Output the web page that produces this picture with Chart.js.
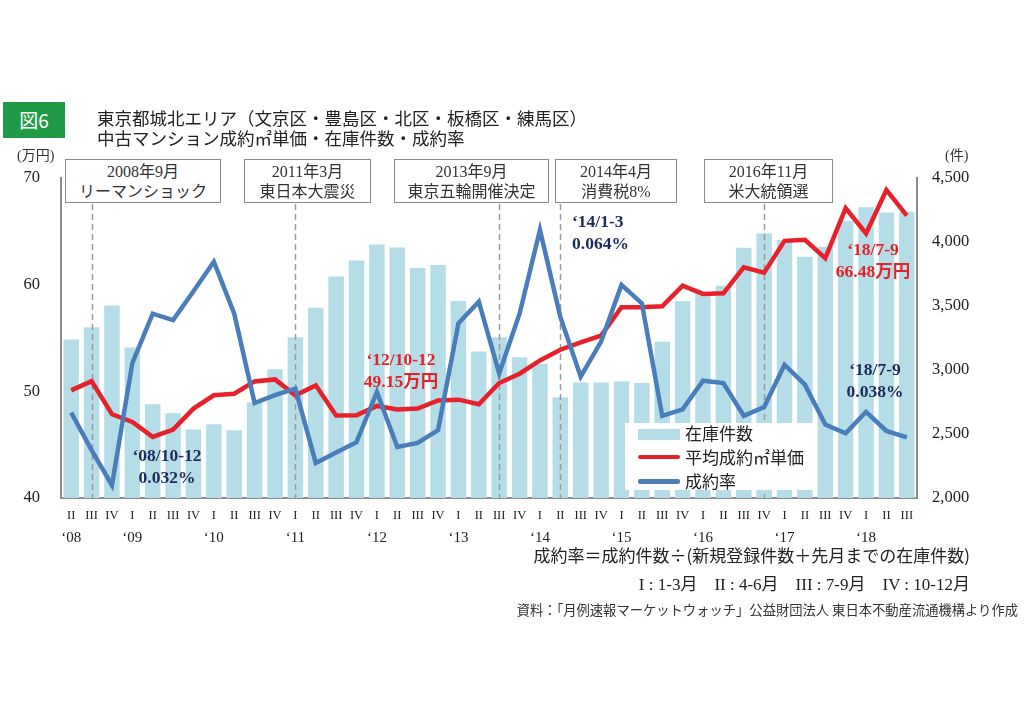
<!DOCTYPE html>
<html lang="ja">
<head>
<meta charset="utf-8">
<script src="https://cdn.jsdelivr.net/npm/chart.js@4"></script>
<style>
  body { margin: 0; background: #fff; }
  #wrap { position: relative; width: 1024px; height: 723px; overflow: hidden; font-family: "Noto Sans CJK JP", sans-serif; color: #222; }
  #chart { position: absolute; left: 0; top: 0; }
  .abs { position: absolute; white-space: nowrap; }
  .fig { left: 3px; top: 102px; width: 62px; height: 36px; background: #1f9b48; color: #fff; font-size: 19px; line-height: 36px; text-align: center; }
  .title { left: 97px; top: 108px; font-size: 17.5px; line-height: 20px; color: #222; }
  .unit { font-family: "Liberation Serif", "Noto Sans CJK JP", serif; font-size: 14px; color: #333; }
  .event { top: 159px; height: 44px; box-sizing: border-box; border: 1.5px solid #8a8a8a; background: #fff; text-align: center; font-family: "Liberation Serif", "Noto Sans CJK JP", serif; font-size: 16px; line-height: 20px; padding-top: 2px; color: #333; }
  .note { font-family: "Liberation Serif", "Noto Sans CJK JP", serif; font-weight: bold; font-size: 17.5px; line-height: 22px; text-align: center; }
  .navy { color: #1d2a5c; }
  .red { color: #e62129; }
  #legend { left: 625px; top: 423px; width: 189px; height: 67px; background: #fff; }
  .item { position: absolute; left: 60px; font-size: 17px; line-height: 20px; color: #222; }
  .sw { position: absolute; left: 13px; width: 42px; }
</style>
</head>
<body>
<div id="wrap">
  <canvas id="chart" width="1024" height="723"></canvas>

  <div class="abs fig">図6</div>
  <div class="abs title">東京都城北エリア（文京区・豊島区・北区・板橋区・練馬区）<br>中古マンション成約㎡単価・在庫件数・成約率</div>
  <div class="abs unit" style="left:17px; top:144px;">(万円)</div>
  <div class="abs unit" style="left:945px; top:144px;">(件)</div>

  <div class="abs event" style="left:65px; width:156px;">2008年9月<br>リーマンショック</div>
  <div class="abs event" style="left:244px; width:127px;">2011年3月<br>東日本大震災</div>
  <div class="abs event" style="left:394px; width:155px;">2013年9月<br>東京五輪開催決定</div>
  <div class="abs event" style="left:555px; width:122px;">2014年4月<br>消費税8%</div>
  <div class="abs event" style="left:704px; width:129px;">2016年11月<br>米大統領選</div>

  <div class="abs note navy" style="left:122px; top:444px; width:90px;">‘08/10-12<br>0.032%</div>
  <div class="abs note red" style="left:354px; top:348px; width:94px;">‘12/10-12<br>49.15万円</div>
  <div class="abs note navy" style="left:572px; top:210px; text-align:left;">‘14/1-3<br>0.064%</div>
  <div class="abs note red" style="left:826px; top:238px; width:94px;">‘18/7-9<br>66.48万円</div>
  <div class="abs note navy" style="left:830px; top:358px; width:90px;">‘18/7-9<br>0.038%</div>

  <div class="abs" id="legend"></div>

  <div class="abs" style="right:54px; top:544px; font-size:17px; line-height:22px;">成約率＝成約件数÷(新規登録件数＋先月までの在庫件数)</div>
  <div class="abs" style="right:54px; top:575px; font-family:'Liberation Serif','Noto Sans CJK JP',serif; font-size:17px; line-height:20px;">I : 1-3月&emsp;II : 4-6月&emsp;III : 7-9月&emsp;IV : 10-12月</div>
  <div class="abs" style="right:6px; top:602px; font-size:13.3px; line-height:16px; color:#333;">資料：「月例速報マーケットウォッチ」公益財団法人 東日本不動産流通機構より作成</div>
</div>

<script>
// quarters 2008 II .. 2018 III
const quarterLabels = [
  'II', 'III', 'IV',
  'I', 'II', 'III', 'IV',
  'I', 'II', 'III', 'IV',
  'I', 'II', 'III', 'IV',
  'I', 'II', 'III', 'IV',
  'I', 'II', 'III', 'IV',
  'I', 'II', 'III', 'IV',
  'I', 'II', 'III', 'IV',
  'I', 'II', 'III', 'IV',
  'I', 'II', 'III', 'IV',
  'I', 'II', 'III'
];
const yearLabels = [
  '‘08', '', '',
  '‘09', '', '', '',
  '‘10', '', '', '',
  '‘11', '', '', '',
  '‘12', '', '', '',
  '‘13', '', '', '',
  '‘14', '', '', '',
  '‘15', '', '', '',
  '‘16', '', '', '',
  '‘17', '', '', '',
  '‘18', '', ''
];

// 在庫件数 (件)
const stock = [
  3238, 3334, 3503, 3176, 2732, 2662, 2535, 2576, 2530, 2748,
  3005, 3256, 3487, 3731, 3856, 3981, 3957, 3797, 3820, 3540,
  3145, 3256, 3100, 3046, 2787, 2903, 2903, 2911, 2898, 3220,
  3540, 3602, 3659, 3955, 4066, 4015, 3885, 3963, 4165, 4272,
  4230, 4237
];
// 平均成約㎡単価 (万円)
const unitPrice = [
  50.09, 50.96, 47.85, 47.13, 45.73, 46.42, 48.38, 49.63, 49.78, 50.93,
  51.12, 49.63, 50.56, 47.73, 47.76, 48.63, 48.29, 48.38, 49.15, 49.22,
  48.79, 50.78, 51.65, 52.9, 53.9, 54.6, 55.23, 57.88, 57.88, 57.98,
  59.9, 59.13, 59.19, 61.62, 61.12, 64.11, 64.2, 62.49, 67.17, 64.8,
  68.88, 66.48
];
// 成約率 (%)
const closingRate = [
  0.0411, 0.0364, 0.032, 0.0473, 0.0535, 0.0527, 0.0563, 0.0600, 0.0535, 0.0423,
  0.0433, 0.0441, 0.0348, 0.0361, 0.0374, 0.0437, 0.0368, 0.0373, 0.0389, 0.0523,
  0.0550, 0.0460, 0.0535, 0.064, 0.0531, 0.0456, 0.0500, 0.0571, 0.0548, 0.0407,
  0.0415, 0.0451, 0.0448, 0.0407, 0.0418, 0.0471, 0.0446, 0.0396, 0.0385, 0.0412,
  0.0388, 0.038
];

// quarter index of each event (dashed line)
const eventIndex = [1, 11, 21, 24, 34];

const seriesNames = ['在庫件数', '平均成約㎡単価', '成約率'];
const barColor = '#b4dde7';
const redColor = '#e62129';
const blueColor = '#4a7ebb';
const axisColor = '#8c8c8c';
const serif = '"Liberation Serif", "Noto Sans CJK JP", serif';

const eventLines = {
    id: 'eventLines',
    afterDatasetDraw(chart, args) {
        if (args.index !== 0) return;
        const { ctx, chartArea, scales } = chart;
        ctx.save();
        ctx.strokeStyle = '#9a9a9a';
        ctx.lineWidth = 1.5;
        ctx.setLineDash([6, 4]);
        eventIndex.forEach((i) => {
            const px = Math.round(scales.x.getPixelForValue(i)) + 0.5;
            ctx.beginPath();
            ctx.moveTo(px, 204);
            ctx.lineTo(px, chartArea.bottom);
            ctx.stroke();
        });
        ctx.restore();
    }
};

const data = {
    labels: quarterLabels,
    datasets: [
        {
            type: 'bar',
            label: seriesNames[0],
            data: stock,
            backgroundColor: barColor,
            yAxisID: 'yR',
            barPercentage: 0.76,
            categoryPercentage: 1,
            order: 3
        },
        {
            type: 'line',
            label: seriesNames[1],
            data: unitPrice,
            borderColor: redColor,
            borderWidth: 4.5,
            pointRadius: 0,
            tension: 0,
            yAxisID: 'y',
            order: 2
        },
        {
            type: 'line',
            label: seriesNames[2],
            data: closingRate,
            borderColor: blueColor,
            borderWidth: 4.5,
            pointRadius: 0,
            tension: 0,
            yAxisID: 'yRate',
            order: 1
        }
    ]
};

const config = {
    type: 'bar',
    data: data,
    options: {
        responsive: false,
        animation: false,
        devicePixelRatio: 1,
        layout: { padding: { top: 178, left: 0, right: 0, bottom: 171 } },
        plugins: { legend: { display: false }, tooltip: { enabled: false } },
        scales: {
            x: {
                position: 'bottom',
                grid: { display: false, drawTicks: false },
                border: { display: true, color: axisColor, width: 2 },
                ticks: { color: '#222', font: { family: serif, size: 12.5 }, padding: 10, autoSkip: false, maxRotation: 0 },
                afterFit: (s) => { s.height = 24; }
            },
            x2: {
                position: 'bottom',
                labels: quarterLabels,
                grid: { display: false, drawTicks: false },
                border: { display: false },
                ticks: {
                    color: '#222', font: { family: serif, size: 15 }, padding: 7, autoSkip: false, maxRotation: 0,
                    callback: (v, i) => yearLabels[i]
                },
                afterFit: (s) => { s.height = 30; }
            },
            y: {
                position: 'left',
                min: 40, max: 70,
                grid: { display: false, drawTicks: false },
                border: { display: true, color: axisColor, width: 2 },
                ticks: { stepSize: 10, color: '#222', font: { family: serif, size: 16.5 }, padding: 21 },
                afterFit: (s) => { s.width = 61; }
            },
            yR: {
                position: 'right',
                min: 2000, max: 4500,
                grid: { display: false, drawTicks: false },
                border: { display: true, color: axisColor, width: 2 },
                ticks: {
                    stepSize: 500, color: '#222', font: { family: serif, size: 16.5 }, padding: 15,
                    callback: (v) => v.toLocaleString('en-US')
                },
                afterFit: (s) => { s.width = 107; }
            },
            yRate: {
                display: false,
                min: 0.0304, max: 0.0705
            }
        }
    },
    plugins: [eventLines]
};

new Chart(document.getElementById('chart'), config);

// legend box
const legend = document.getElementById('legend');
const rows = [
    { top: 0, swatch: `top:6px; height:11px; background:${barColor};` },
    { top: 24, swatch: `top:32px; height:4px; border-radius:2px; background:${redColor};` },
    { top: 48, swatch: `top:56px; height:5px; border-radius:2px; background:${blueColor};` }
];
rows.forEach((row, i) => {
    const sw = document.createElement('div');
    sw.className = 'sw';
    sw.style.cssText += row.swatch;
    legend.appendChild(sw);
    const txt = document.createElement('div');
    txt.className = 'item';
    txt.style.top = row.top + 'px';
    txt.textContent = seriesNames[i];
    legend.appendChild(txt);
});
</script>
</body>
</html>
